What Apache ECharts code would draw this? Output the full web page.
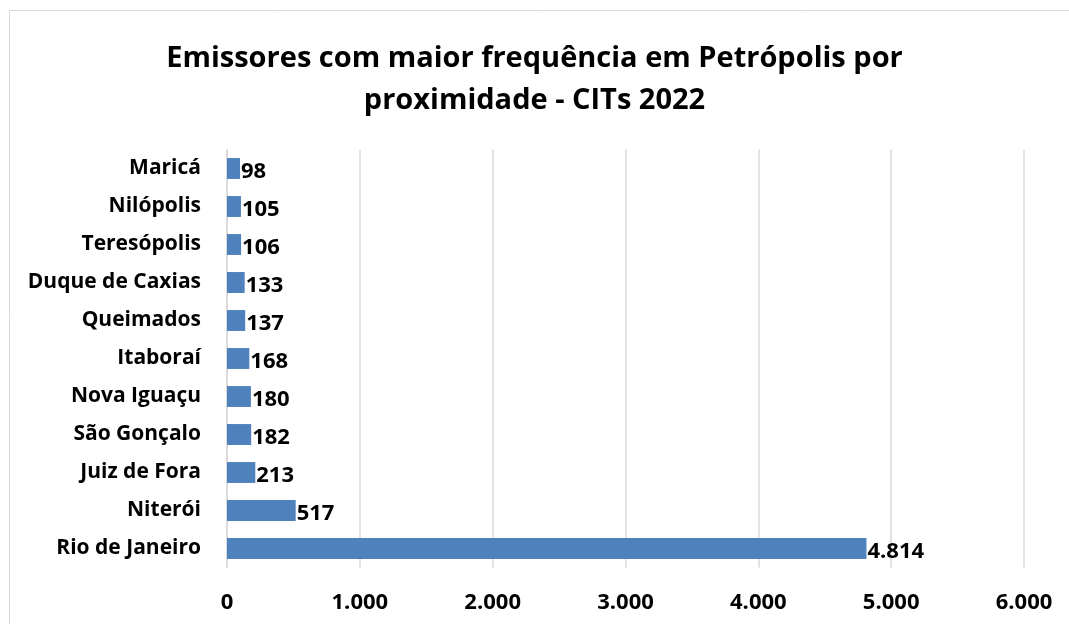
<!DOCTYPE html>
<html>
<head>
<meta charset="utf-8">
<script src="https://cdn.jsdelivr.net/npm/echarts@6/dist/echarts.min.js"></script>
<style>
    html,body{margin:0;padding:0;background:#fff;}
    #chart{width:1069px;height:624px;}
</style>
</head>
<body>
<div id="chart"></div>
<script>
// dados (de baixo para cima no gráfico)
var cidades = ['Rio de Janeiro','Niterói','Juiz de Fora','São Gonçalo','Nova Iguaçu','Itaboraí','Queimados','Duque de Caxias','Teresópolis','Nilópolis','Maricá'];
var valores = [4814,517,213,182,180,168,137,133,106,105,98];
var eixoMin = 0;
var eixoMax = 6000;
var eixoPasso = 1000;

var fonte = '"Open Sans", Lato, sans-serif';

function fmtNum(v){                                             // 4814 -> 4.814
    return String(v).replace(/\B(?=(\d{3})+(?!\d))/g,'.');
}

var myChart = echarts.init(document.getElementById('chart'));
var option = {
    backgroundColor:'#fff',
    animation:false,
    title:{
        text:'Emissores com maior frequência em Petrópolis por\nproximidade - CITs 2022',
        left:'center',
        top:33,
        textStyle:{
            fontFamily:fonte,
            fontSize:29,
            fontWeight:'bold',
            color:'#000',
            lineHeight:42
        }
    },
    graphic:[{
        type:'rect',
        shape:{x:9.5,y:10.5,width:1200,height:800},
        style:{fill:'none',stroke:'#d9d9d9',lineWidth:1},
        silent:true
    }],
    grid:{
        left:227,
        right:45,
        top:149.5,
        bottom:56.5,
        containLabel:false
    },
    xAxis:{
        type:'value',
        min:eixoMin,
        max:eixoMax,
        interval:eixoPasso,
        axisLine:{show:false},
        axisTick:{show:false},
        splitLine:{lineStyle:{color:'#d9d9d9',width:1.5}},
        axisLabel:{
            margin:24,
            fontFamily:fonte,
            fontSize:22,
            fontWeight:'bold',
            color:'#000',
            formatter:function(v){return fmtNum(v);}
        }
    },
    yAxis:{
        type:'category',
        data:cidades,
        axisLine:{show:true,lineStyle:{color:'#d9d9d9',width:1.5}},
        axisTick:{show:false},
        axisLabel:{
            margin:26,
            fontFamily:fonte,
            fontSize:21,
            fontWeight:'bold',
            color:'#000'
        }
    },
    series:[{
        type:'bar',
        data:valores,
        barWidth:'55%',
        itemStyle:{color:'#4f81bd'},
        label:{
            show:true,
            position:'right',
            distance:1,
            offset:[0,3],
            fontFamily:fonte,
            fontSize:22,
            fontWeight:'bold',
            color:'#000',
            formatter:function(p){return fmtNum(p.value);}
        }
    }]
};
myChart.setOption(option);
</script>
</body>
</html>
